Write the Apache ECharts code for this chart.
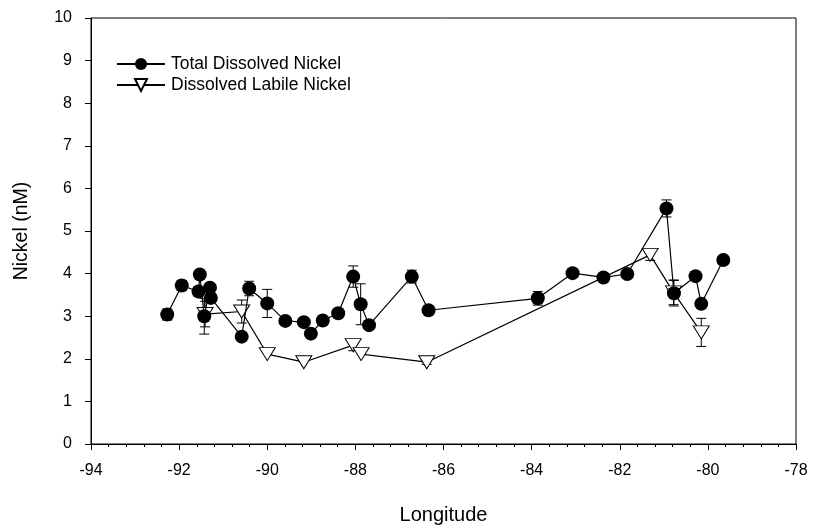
<!DOCTYPE html>
<html><head><meta charset="utf-8">
<script src="https://cdn.jsdelivr.net/npm/echarts@6/dist/echarts.min.js"></script>
<style>html,body{margin:0;padding:0;background:#fff}#c{width:813px;height:526px}</style>
</head><body><div id="c"></div>
<script>
// Total dissolved nickel (filled circles)
const totalLon = [-92.27, -91.94, -91.56, -91.53, -91.43, -91.30, -91.28, -90.58, -90.41, -90.00, -89.59, -89.17, -89.01, -88.74, -88.39, -88.05, -87.88, -87.69, -86.72, -86.34, -83.86, -83.07, -82.37, -81.83, -80.94, -80.77, -80.28, -80.15, -79.65];
const totalNi  = [3.04, 3.72, 3.58, 3.98, 3.00, 3.67, 3.43, 2.52, 3.65, 3.30, 2.89, 2.86, 2.59, 2.90, 3.07, 3.93, 3.28, 2.79, 3.93, 3.14, 3.42, 4.01, 3.91, 3.99, 5.53, 3.54, 3.94, 3.29, 4.32];
const totalErr = [0.13, 0.12, 0.10, 0.08, 0.42, 0.08, 0.08, 0, 0.17, 0.33, 0, 0, 0, 0, 0, 0.25, 0.48, 0, 0.15, 0, 0.16, 0, 0, 0, 0.20, 0.30, 0, 0, 0];
// Dissolved labile nickel (open down triangles)
const labileLon = [-91.41, -90.58, -90.00, -89.17, -88.05, -87.87, -86.38, -81.31, -80.78, -80.15];
const labileNi  = [3.05, 3.11, 2.11, 1.92, 2.32, 2.11, 1.92, 4.44, 3.56, 2.62];
const labileErr = [0.30, 0.27, 0, 0, 0.13, 0, 0.05, 0.13, 0.29, 0.33];
// Axis ticks
const xTicks = { min: -94, max: -78, step: 2 };
const yTicks = { min: 0, max: 10, step: 1 };

const FONT = 'Arial, "Liberation Sans", sans-serif';
function pairs(xs, ys) { return xs.map((x, i) => [x, ys[i]]); }
function errData(xs, ys, es) { return xs.map((x, i) => [x, ys[i], es[i]]).filter(d => d[2] > 0); }
function errRender(params, api) {
  const x = api.value(0), y = api.value(1), e = api.value(2);
  const t = api.coord([x, y + e]), b = api.coord([x, y - e]);
  const hw = 5, st = { stroke: '#000', lineWidth: 1 };
  return { type: 'group', children: [
    { type: 'line', shape: { x1: t[0], y1: t[1], x2: b[0], y2: b[1] }, style: st },
    { type: 'line', shape: { x1: t[0] - hw, y1: t[1], x2: t[0] + hw, y2: t[1] }, style: st },
    { type: 'line', shape: { x1: b[0] - hw, y1: b[1], x2: b[0] + hw, y2: b[1] }, style: st }
  ]};
}

const chart = echarts.init(document.getElementById('c'), null, { renderer: 'canvas' });
chart.setOption({
  animation: false,
  backgroundColor: '#fff',
  textStyle: { fontFamily: FONT },
  grid: { left: 91, right: 17, top: 18, bottom: 82, containLabel: false, outerBoundsMode: 'none', show: true, borderColor: '#000', borderWidth: 1, backgroundColor: 'transparent' },
  legend: {
    left: 111, top: 50, orient: 'vertical', itemWidth: 48, itemHeight: 15, itemGap: 3,
    data: ['Total Dissolved Nickel', 'Dissolved Labile Nickel'],
    textStyle: { fontFamily: FONT, fontSize: 17.5, color: '#000', padding: [0, 0, 0, 1] }
  },
  xAxis: {
    type: 'value', min: xTicks.min, max: xTicks.max, interval: xTicks.step,
    name: 'Longitude', nameLocation: 'middle', nameGap: 61,
    nameTextStyle: { fontFamily: FONT, fontSize: 20, color: '#000' },
    axisLine: { onZero: false, lineStyle: { color: '#000', width: 1 } },
    axisTick: { inside: false, length: 6, lineStyle: { color: '#000' } },
    minorTick: { show: true, splitNumber: 5, length: 3, lineStyle: { color: '#000' } },
    splitLine: { show: false },
    axisLabel: { fontFamily: FONT, fontSize: 16, color: '#000', margin: 19 }
  },
  yAxis: {
    type: 'value', min: yTicks.min, max: yTicks.max, interval: yTicks.step,
    name: 'Nickel (nM)', nameLocation: 'middle', nameGap: 59, nameRotate: 90,
    nameTextStyle: { fontFamily: FONT, fontSize: 19.5, color: '#000' },
    axisLine: { onZero: false, lineStyle: { color: '#000', width: 1 } },
    axisTick: { inside: false, length: 6, lineStyle: { color: '#000' } },
    splitLine: { show: false },
    axisLabel: { fontFamily: FONT, fontSize: 16, color: '#000', margin: 19 }
  },
  series: [
    { type: 'custom', name: 'errTotal', renderItem: errRender, data: errData(totalLon, totalNi, totalErr), z: 1, silent: true },
    { type: 'custom', name: 'errLabile', renderItem: errRender, data: errData(labileLon, labileNi, labileErr), z: 1, silent: true },
    {
      type: 'line', name: 'Dissolved Labile Nickel', data: pairs(labileLon, labileNi), z: 2,
      symbol: 'triangle', symbolRotate: 180, symbolSize: [16, 13],
      lineStyle: { color: '#000', width: 1.2 },
      itemStyle: { color: '#fff', borderColor: '#000', borderWidth: 1 }
    },
    {
      type: 'line', name: 'Total Dissolved Nickel', data: pairs(totalLon, totalNi), z: 3,
      symbol: 'circle', symbolSize: 14,
      lineStyle: { color: '#000', width: 1.2 },
      itemStyle: { color: '#000', borderColor: '#000', borderWidth: 0 }
    }
  ]
});
</script>
</body></html>
